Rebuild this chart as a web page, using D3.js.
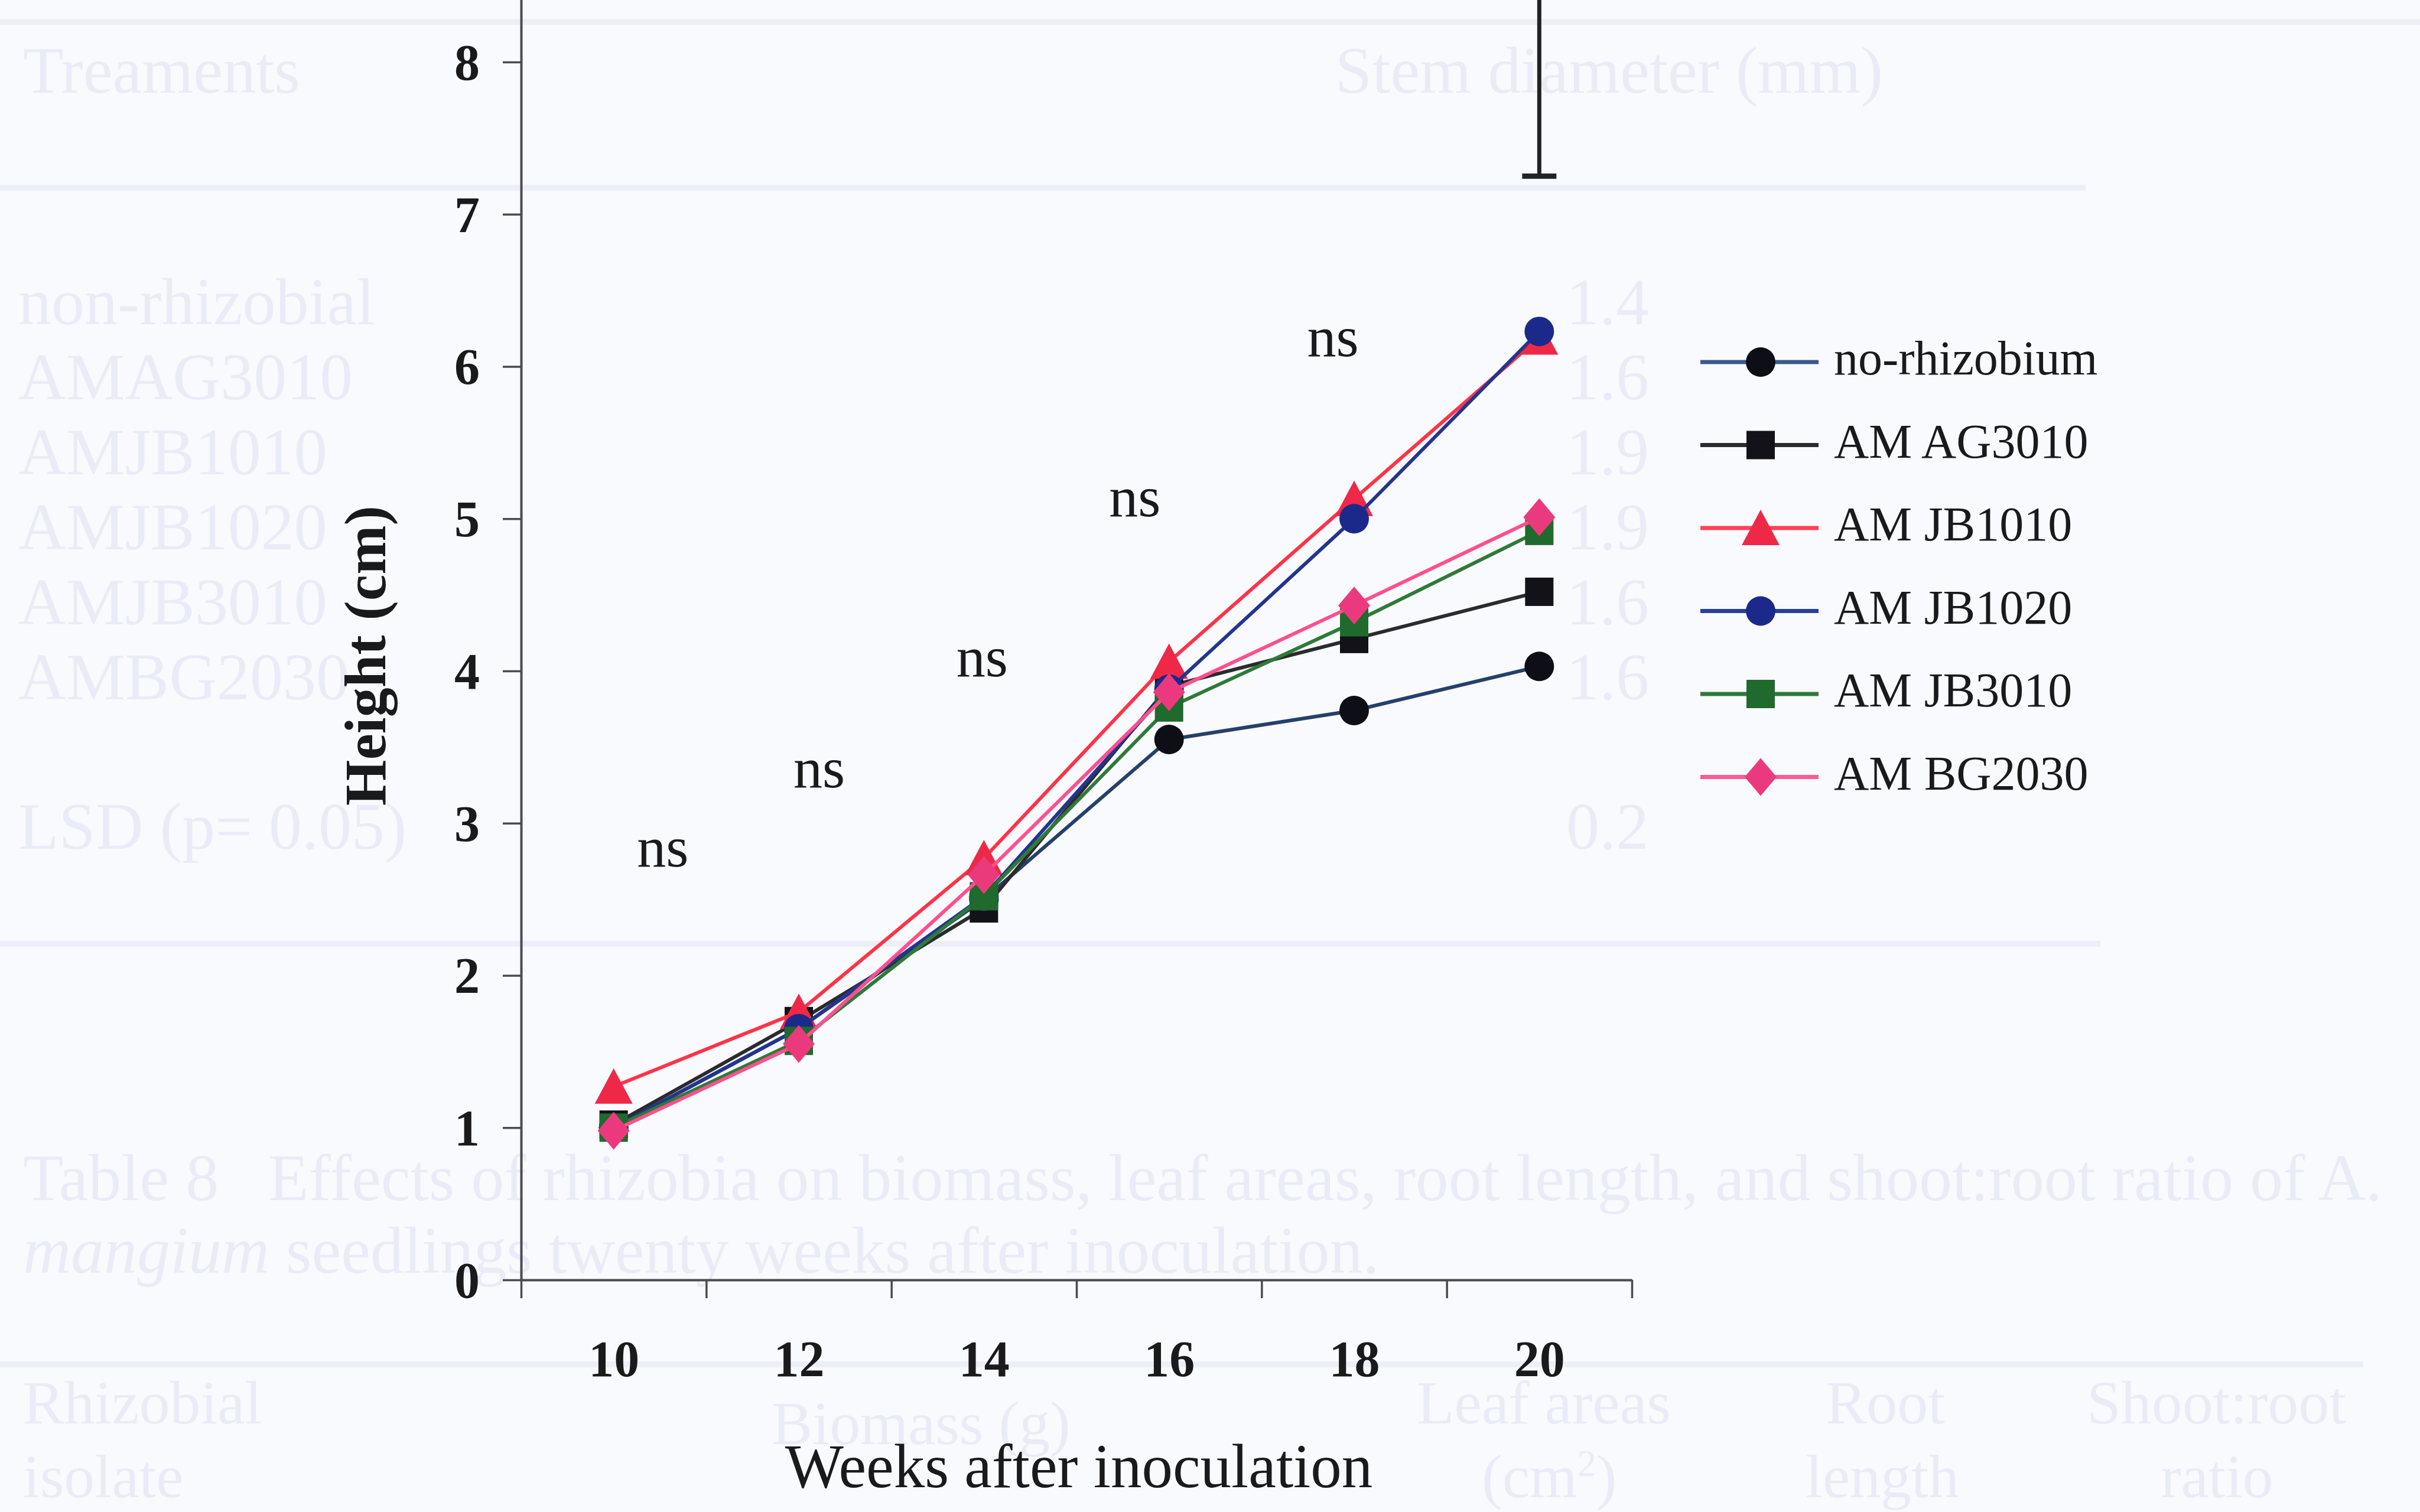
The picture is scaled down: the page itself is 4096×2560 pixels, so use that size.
<!DOCTYPE html>
<html><head><meta charset="utf-8">
<script src="https://cdn.jsdelivr.net/npm/d3@7"></script>
<style>
html,body{margin:0;padding:0;background:#f9fafe;}
svg{display:block;}
text{font-family:"Liberation Serif","Times New Roman",Times,serif;}
</style></head><body>
<svg id="chart" width="4096" height="2560"></svg>
<script>
// ---------------- data ----------------
const weeks = [10, 12, 14, 16, 18, 20];
const seriesNames = ["no-rhizobium", "AMAG3010", "AMJB1010", "AMJB1020", "AMJB3010", "AMBG2030"];
const legendLabels = ["no-rhizobium", "AM AG3010", "AM JB1010", "AM JB1020", "AM JB3010", "AM BG2030"];
const noRhizobium = [1.00, 1.65, 2.50, 3.55, 3.74, 4.03];
const amag3010    = [1.02, 1.70, 2.44, 3.90, 4.21, 4.52];
const amjb1010    = [1.27, 1.76, 2.77, 4.06, 5.13, 6.19];
const amjb1020    = [1.00, 1.65, 2.52, 3.88, 5.00, 6.23];
const amjb3010    = [1.00, 1.57, 2.52, 3.76, 4.32, 4.92];
const ambg2030    = [0.98, 1.55, 2.66, 3.86, 4.43, 5.01];
const yTickValues = [0, 1, 2, 3, 4, 5, 6, 7, 8];
const xTickLabels = ["10", "12", "14", "16", "18", "20"];
const xTickMarks = [9, 11, 13, 15, 17, 19, 21];
const nsWeeks   = [10.53, 12.22, 13.98, 15.63, 17.77];
const nsHeights = [2.80, 3.32, 4.05, 5.10, 6.15];
const nsLabel = "ns";
const lsdWeek = 20, lsdLow = 7.25, lsdHigh = 9.0;
const xTitle = "Weeks after inoculation";
const yTitle = "Height (cm)";

// faint bleed-through text of the facing page (scan artefact)
const ghostRows   = ["non-rhizobial", "AMAG3010", "AMJB1010", "AMJB1020", "AMJB3010", "AMBG2030"];
const ghostValues = ["1.4", "1.6", "1.9", "1.9", "1.6", "1.6"];

// ---------------- styles ----------------
const seriesData = [noRhizobium, amag3010, amjb1010, amjb1020, amjb3010, ambg2030];
const lineColors   = ["#25406a", "#2b2b2e", "#ff3347", "#23358f", "#2f7a38", "#ff4f8f"];
const legendLineColors = ["#3a5a8c", "#2b2b2e", "#ff4255", "#2a3f98", "#2f7a38", "#ff5a96"];
const markerColors = ["#0e0e16", "#121218", "#f02848", "#1b2a8a", "#1f6a2c", "#ea3a7d"];
const shapes = ["circle", "square", "triangle", "circle", "square", "diamond"];

const svg = d3.select("#chart");
const W = 4096, H = 2560;
svg.append("rect").attr("width", W).attr("height", H).attr("fill", "#f9fafe");

// ---------- ghost layer ----------
const gl = svg.append("g").attr("stroke", "#eceff8").attr("stroke-width", 10);
[[0, 4096, 37], [0, 3530, 318], [0, 3555, 1598], [0, 4000, 2310]].forEach(l =>
  gl.append("line").attr("x1", l[0]).attr("x2", l[1]).attr("y1", l[2]).attr("y2", l[2]));
const ghost = svg.append("g").attr("fill", "#e9ecf7").style("font-size", "112px");
ghost.append("text").attr("x", 39).attr("y", 157).text("Treaments");
ghost.append("text").attr("x", 2260).attr("y", 157).text("Stem diameter (mm)");
ghostRows.forEach((r, i) => {
  ghost.append("text").attr("x", 31).attr("y", 549 + i * 127).text(r);
  ghost.append("text").attr("x", 2651).attr("y", 549 + i * 127).text(ghostValues[i]);
});
ghost.append("text").attr("x", 31).attr("y", 1437).text("LSD (p= 0.05)");
ghost.append("text").attr("x", 2651).attr("y", 1437).text("0.2");
ghost.append("text").attr("x", 39).attr("y", 2032).attr("xml:space", "preserve")
  .text("Table 8   Effects of rhizobia on biomass, leaf areas, root length, and shoot:root ratio of A.");
const g2 = ghost.append("text").attr("x", 39).attr("y", 2155);
g2.append("tspan").attr("font-style", "italic").text("mangium");
g2.append("tspan").text(" seedlings twenty weeks after inoculation.");
const gb = svg.append("g").attr("fill", "#e9ecf7").style("font-size", "104px");
gb.append("text").attr("x", 39).attr("y", 2410).text("Rhizobial");
gb.append("text").attr("x", 39).attr("y", 2535).text("isolate");
gb.append("text").attr("x", 1306).attr("y", 2445).text("Biomass (g)");
gb.append("text").attr("x", 2398).attr("y", 2410).text("Leaf areas");
const g3 = gb.append("text").attr("x", 2508).attr("y", 2535);
g3.append("tspan").text("(cm");
g3.append("tspan").attr("dy", -36).style("font-size", "64px").text("2");
g3.append("tspan").attr("dy", 36).text(")");
gb.append("text").attr("x", 3090).attr("y", 2410).text("Root");
gb.append("text").attr("x", 3056).attr("y", 2535).text("length");
gb.append("text").attr("x", 3532).attr("y", 2410).text("Shoot:root");
gb.append("text").attr("x", 3657).attr("y", 2535).text("ratio");

// ---------- scales ----------
const x = d3.scaleLinear().domain([9, 21]).range([882, 2762]);
const yTop = 8.42;
const y = d3.scaleLinear().domain([0, yTop]).range([2167, 2167 - yTop * 257.75]);

const textColor = "#1a1a1c";
const axisColor = "#4a4a50";

// ---------- axes ----------
const yAxis = svg.append("g").attr("transform", `translate(${x(9)},0)`)
  .call(d3.axisLeft(y).tickValues(yTickValues).tickFormat(d3.format("d"))
        .tickSize(31).tickSizeOuter(0).tickPadding(39));
yAxis.select(".domain").attr("stroke", axisColor).attr("stroke-width", 4);
yAxis.selectAll(".tick line").attr("stroke", axisColor).attr("stroke-width", 3.5);
yAxis.selectAll(".tick text").attr("fill", textColor).attr("font-weight", "bold")
  .style("font-family", '"Liberation Serif",serif').style("font-size", "86px").attr("dy", "0.34em");

const xAxis = svg.append("g").attr("transform", `translate(0,${y(0)})`)
  .call(d3.axisBottom(x).tickValues(xTickMarks).tickFormat("").tickSize(31).tickSizeOuter(0));
xAxis.select(".domain").attr("stroke", axisColor).attr("stroke-width", 4);
xAxis.selectAll(".tick line").attr("stroke", axisColor).attr("stroke-width", 3.5);

const xLab = svg.append("g").attr("transform", `translate(0,${y(0)})`)
  .call(d3.axisBottom(x).tickValues(weeks).tickFormat((d, i) => xTickLabels[i]).tickSize(0).tickPadding(102));
xLab.select(".domain").remove();
xLab.selectAll(".tick text").attr("fill", textColor).attr("font-weight", "bold")
  .style("font-family", '"Liberation Serif",serif').style("font-size", "86px");

// axis titles
svg.append("text").attr("x", 1826).attr("y", 2518)
  .attr("text-anchor", "middle").attr("fill", textColor).style("font-size", "105px").text(xTitle);
svg.append("text").attr("transform", `translate(652,${y(4.1)}) rotate(-90)`)
  .attr("text-anchor", "middle").attr("fill", textColor).attr("font-weight", "bold")
  .style("font-size", "100px").text(yTitle);

// ---------- LSD error bar ----------
svg.append("line").attr("x1", x(lsdWeek)).attr("x2", x(lsdWeek))
  .attr("y1", y(lsdLow)).attr("y2", y(lsdHigh)).attr("stroke", "#222226").attr("stroke-width", 7);
svg.append("line").attr("x1", x(lsdWeek) - 29).attr("x2", x(lsdWeek) + 29)
  .attr("y1", y(lsdLow)).attr("y2", y(lsdLow)).attr("stroke", "#222226").attr("stroke-width", 9);

// ---------- ns annotations ----------
svg.append("g").selectAll("text").data(nsWeeks).join("text")
  .attr("x", d => x(d)).attr("y", (d, i) => y(nsHeights[i])).attr("dy", "0.22em")
  .attr("text-anchor", "middle").attr("fill", textColor).style("font-size", "98px").text(nsLabel);

// ---------- markers ----------
function drawMarker(g, shape, color) {
  if (shape === "circle") g.append("circle").attr("r", 25).attr("fill", color);
  else if (shape === "square") g.append("rect").attr("x", -24).attr("y", -24).attr("width", 48).attr("height", 48).attr("fill", color);
  else if (shape === "triangle") g.append("path").attr("d", "M0,-31 L32,29 L-32,29 Z").attr("fill", color);
  else if (shape === "diamond") g.append("path").attr("d", "M0,-32 L27,0 L0,32 L-27,0 Z").attr("fill", color);
}

const line = d3.line().x((d, i) => x(weeks[i])).y(d => y(d));
seriesData.forEach((vals, s) => {
  const g = svg.append("g");
  g.append("path").attr("d", line(vals)).attr("fill", "none")
    .attr("stroke", lineColors[s]).attr("stroke-width", 6).attr("stroke-linejoin", "round");
  vals.forEach((v, i) => {
    const m = g.append("g").attr("transform", `translate(${x(weeks[i])},${y(v)})`);
    drawMarker(m, shapes[s], markerColors[s]);
  });
});

// ---------- legend ----------
const legend = svg.append("g");
seriesNames.forEach((name, s) => {
  const cy = 613 + s * 140.5;
  const row = legend.append("g").attr("transform", `translate(0,${cy})`);
  row.append("line").attr("x1", 2878).attr("x2", 3078).attr("y1", 0).attr("y2", 0)
    .attr("stroke", legendLineColors[s]).attr("stroke-width", 7);
  const m = row.append("g").attr("transform", "translate(2980,0)");
  drawMarker(m, shapes[s], markerColors[s]);
  row.append("text").attr("x", 3104).attr("y", 21).attr("fill", textColor)
    .attr("xml:space", "preserve").style("font-size", "82px").text(legendLabels[s]);
});
</script>
</body></html>
